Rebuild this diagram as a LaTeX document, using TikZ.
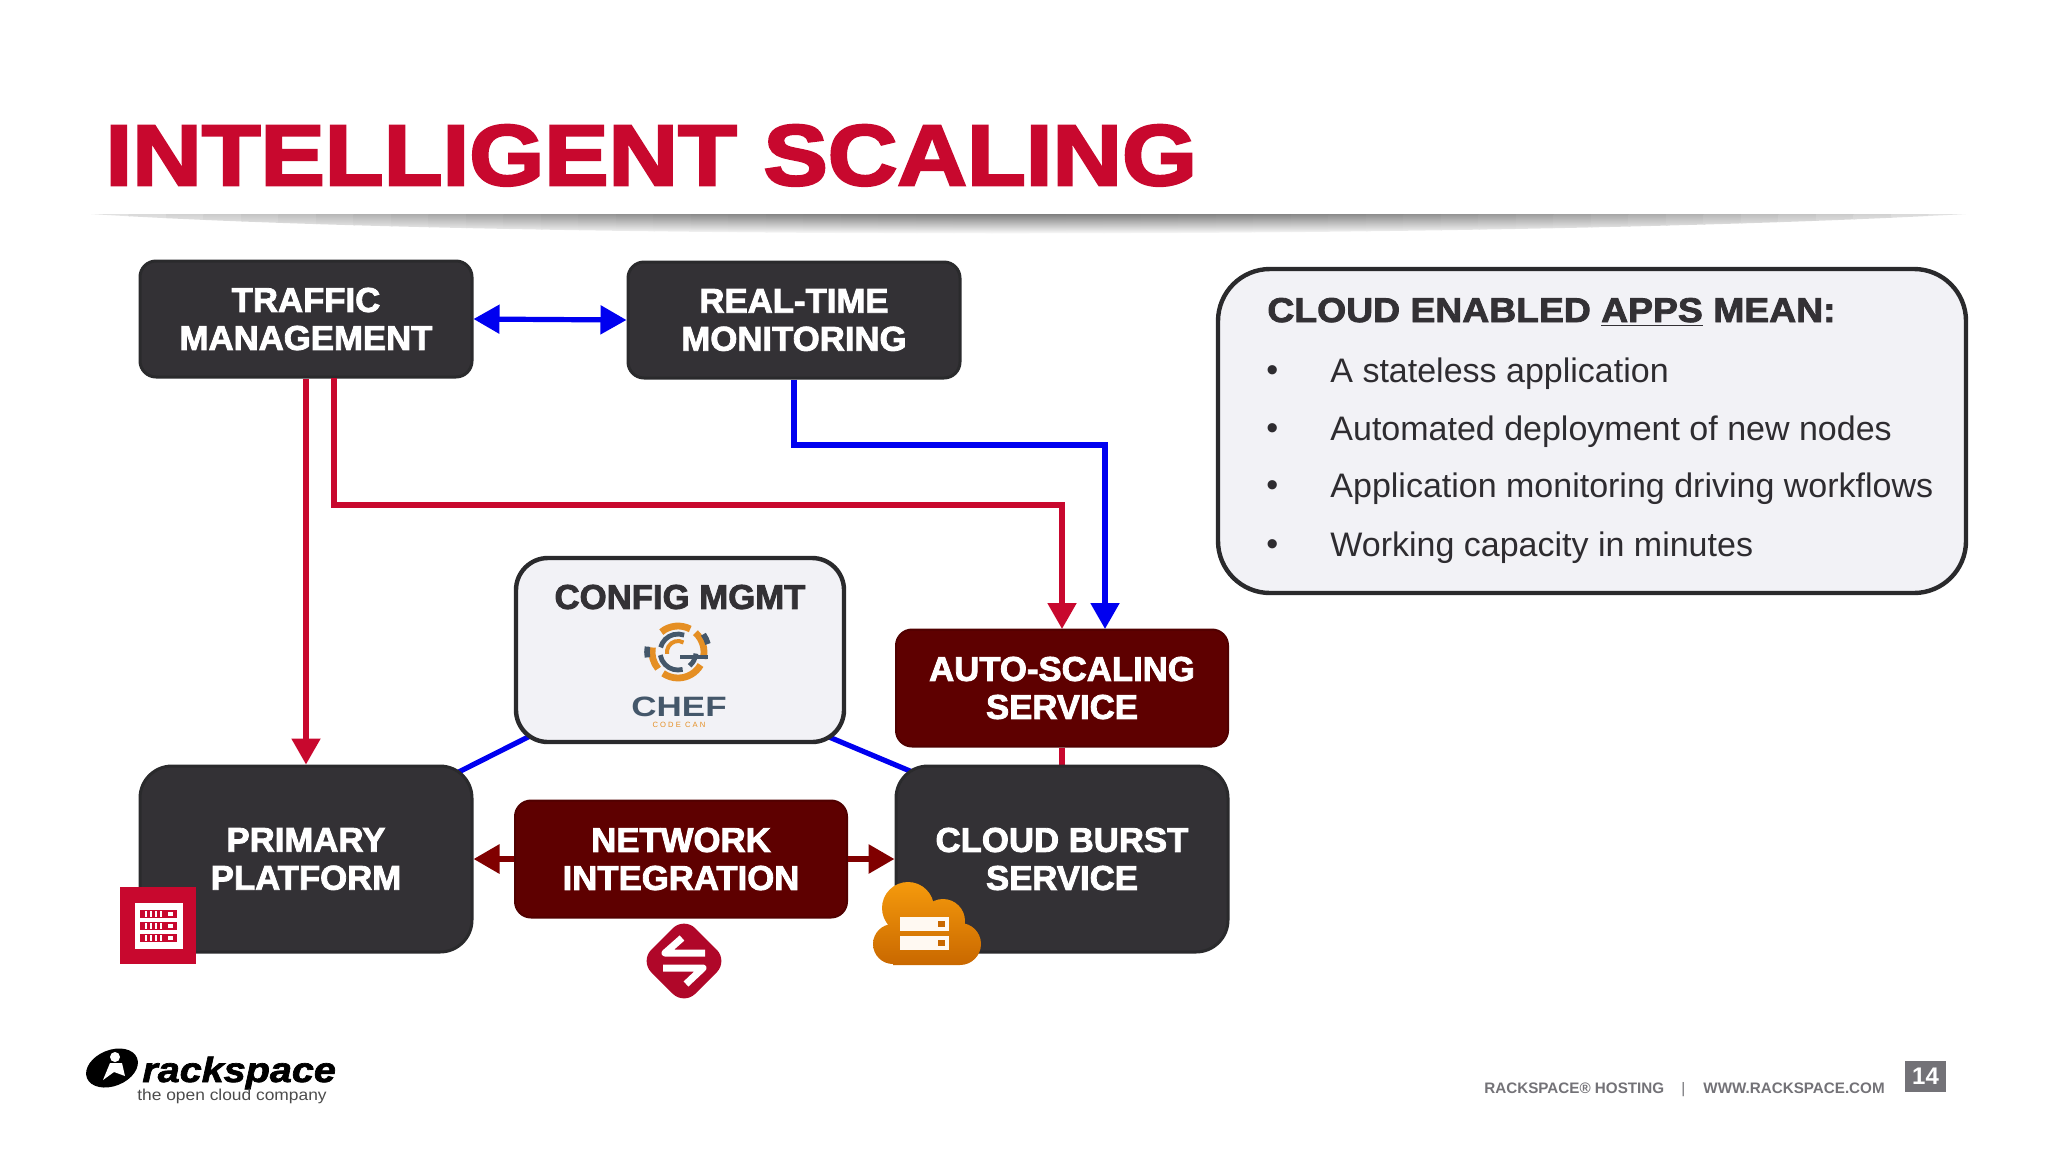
\documentclass[tikz,border=0pt]{standalone}
\usepackage{xcolor}
\usepackage{fontspec}
\setmainfont{Liberation Sans}
\newfontfamily\titlefont[FakeStretch=1.12,FakeBold=3]{Liberation Sans Bold}
\newfontfamily\headfont[FakeStretch=1.01,FakeBold=2.4]{Liberation Sans Bold}
\newfontfamily\panelfont[FakeStretch=1.085,FakeBold=2.4]{Liberation Sans Bold}
\newfontfamily\cheffont[FakeStretch=1.25]{Liberation Sans Bold}
\newfontfamily\logofont[FakeStretch=1.13,FakeBold=2]{Liberation Sans Bold Italic}
\newfontfamily\sloganfont[FakeStretch=1.1]{Liberation Sans}
\usetikzlibrary{positioning,calc,shapes.geometric,arrows.meta,backgrounds}
\definecolor{rsred}{HTML}{C8082E}
\definecolor{rsmaroon}{HTML}{5E0000}
\definecolor{rsarrow}{HTML}{800000}
\definecolor{rsdark}{HTML}{333135}
\definecolor{rsedge}{HTML}{2A2A2C}
\definecolor{rslight}{HTML}{F2F2F6}
\definecolor{rsgrey}{HTML}{737277}
\definecolor{rsblue}{HTML}{0000F0}
\definecolor{chefblue}{HTML}{44576A}
\definecolor{cheforange}{HTML}{E58F24}
\definecolor{cloudtop}{HTML}{F59A0C}
\definecolor{cloudbottom}{HTML}{C96800}

\begin{document}
\begin{tikzpicture}[x=0.5pt,y=-0.5pt,
    boxbase/.style={rectangle,align=center,inner sep=0pt,minimum width=166pt,
        font=\headfont\fontsize{17.2}{19}\selectfont},
    boxdark/.style={boxbase,draw=rsedge,line width=1.5pt,fill=rsdark,text=white},
    boxmaroon/.style={boxbase,draw=rsmaroon!85!black,line width=1pt,fill=rsmaroon,text=white,
        rounded corners=8pt,minimum height=58.5pt},
    redline/.style={draw=rsred,line width=2.6pt},
    blueline/.style={draw=rsblue,line width=2.6pt},
    darkline/.style={draw=rsarrow,line width=3pt},
    bigtip/.style={-{Triangle[length=13pt,width=14pt]}},
    bothtip/.style={{Triangle[length=13pt,width=14pt]}-{Triangle[length=13pt,width=14pt]}},
    itemtext/.style={anchor=west,inner sep=0pt,text=rsdark!90!black,font=\fontsize{17}{20}\selectfont},
    foottext/.style={anchor=base west,inner sep=0pt,text=rsgrey,font=\bfseries\fontsize{7.6}{9}\selectfont}]

    \useasboundingbox (0,0) rectangle (2048,1152);

    % title
    \node[anchor=base west,inner sep=0pt,text=rsred,font=\titlefont\fontsize{43}{48}\selectfont] (title) at (105,185) {INTELLIGENT SCALING};
    \begin{scope}
        \clip (91,214) -- (1966,214) .. controls (1500,240) and (500,240) .. (91,214) -- cycle;
        \foreach \i [evaluate=\i as \pct using 10+40*(1-((\i-24.5)/25)^2)] in {0,...,49}
            \shade[top color=black!\pct,bottom color=white] (91+37.5*\i,214) rectangle (130+37.5*\i,234);
    \end{scope}

    % boxes
    \node[boxdark,rounded corners=8pt,minimum height=58pt] (traffic) at (306,319) {TRAFFIC\\MANAGEMENT};
    \node[boxdark,rounded corners=8pt,minimum height=58pt] (realtime) at (794,320) {REAL-TIME\\MONITORING};
    \node[boxdark,rounded corners=16pt,minimum height=93pt] (primary) at (306,859) {PRIMARY\\PLATFORM};
    \node[boxdark,rounded corners=16pt,minimum height=93pt] (cloudburst) at (1062,859) {CLOUD BURST\\SERVICE};
    \node[boxmaroon] (network) at (681,859) {NETWORK\\INTEGRATION};
    \node[boxmaroon] (autoscale) at (1062,688) {AUTO-SCALING\\SERVICE};
    \node[boxbase,draw=rsedge,line width=2.2pt,fill=rslight,rounded corners=16pt,minimum width=164pt,minimum height=92pt] (config) at (680,650) {};
    \node[inner sep=0pt,text=rsdark,font=\headfont\fontsize{17.2}{19}\selectfont] (configlabel) at (680,597) {CONFIG MGMT};

    % connectors
    \coordinate (trafficout) at (334,378);
    \coordinate (autored) at (1062,629);
    \coordinate (autoblue) at (1105,629);
    \begin{scope}[on background layer]
        \draw[blueline,shorten <=-10pt,shorten >=-10pt] (config.south west) -- (primary.north east);
        \draw[blueline,shorten <=-10pt,shorten >=-10pt] (config.south east) -- (cloudburst.north west);
        \draw[redline] (autoscale.south) -- (cloudburst.north);
    \end{scope}
    \draw[blueline,bothtip] (traffic.east) -- (realtime.west);
    \draw[redline,bigtip] (traffic.south) -- (primary.north);
    \draw[redline,bigtip] (trafficout) |- (1062,505) -- (autored);
    \draw[blueline,bigtip] (realtime.south) |- (1105,445) -- (autoblue);
    \draw[darkline,bigtip] (network.west) -- (primary.east);
    \draw[darkline,bigtip] (network.east) -- (cloudburst.west);

    % chef logo
    \foreach \a/\b in {-130/-62,-48/15,30/125,140/190}
        \draw[cheforange,line width=3.4pt] (678,652) ++(\a:26) arc (\a:\b:26);
    \foreach \a/\b in {-165/-70,75/170,5/50}
        \draw[chefblue,line width=2.4pt] (678,652) ++(\a:18) arc (\a:\b:18);
    \draw[cheforange,line width=2pt] (678,652) ++(-60:11) arc (-60:-190:11);
    \foreach \a/\b in {170/190,-35/-15}
        \draw[chefblue,line width=2.8pt] (678,652) ++(\a:31) arc (\a:\b:31);
    \draw[chefblue,line width=1.6pt] (680,657) -- (708,657);
    \node[inner sep=0pt,text=chefblue,font=\cheffont\fontsize{14}{15}\selectfont] (chef) at (679,707) {CHEF};
    \node[inner sep=0pt,text=cheforange,font=\fontsize{3.8}{4}\selectfont] (codecan) at (679,725) {C O D E\ \ C A N};

    % server icon
    \fill[rsred] (120,887) rectangle (196,964);
    \fill[white] (135,903) rectangle (183,949);
    \foreach \y in {910,922,934} {
        \fill[rsred] (140,\y) rectangle (177,\y+8);
        \foreach \x in {145,150,155,160}
            \fill[white] (\x,\y+1) rectangle (\x+2,\y+7);
        \fill[white] (168,\y+2) rectangle (173,\y+6);
    }

    % exchange icon
    \fill[rsred!88!black,rounded corners=8pt] (684,917) -- (728,961) -- (684,1005) -- (640,961) -- cycle;
    \draw[white,line width=3.5pt,line join=round] (705,953) -- (665,953) -- (682,938);
    \draw[white,line width=3.5pt,line join=round] (663,968) -- (703,968) -- (686,984);

    % cloud icon
    \shade[top color=cloudtop,bottom color=cloudbottom] (908,908) circle (26) (943,921) circle (22) (960,944) circle (21)
        (893,944) circle (20) (960,925) rectangle (893,965);
    \foreach \y in {917,936} {
        \fill[white!95!orange] (900,\y) rectangle (949,\y+14);
        \fill[cloudbottom] (938,\y+4) rectangle (945,\y+10);
    }

    % side panel
    \node[draw=rsedge,line width=2.2pt,fill=rslight,rounded corners=26pt,minimum width=374pt,minimum height=162pt,inner sep=0pt] (apps) at (1592,431) {};
    \node[anchor=base west,inner sep=0pt,text=rsdark,font=\panelfont\fontsize{17.2}{19}\selectfont] (appstitle) at (1267,322) {CLOUD ENABLED \underline{APPS} MEAN:};
    \foreach \n/\y/\txt in {1/374/A stateless application,2/432/Automated deployment of new nodes,3/489/Application monitoring driving workflows,4/548/Working capacity in minutes} {
        \node[itemtext] (bullet\n) at (1266,\y) {•};
        \node[itemtext] (item\n) at (1330,\y) {\txt};
    }

    % rackspace logo
    \fill[black,rotate around={22:(112,1068)}] (112,1068) ellipse (27 and 18);
    \fill[white] (115,1057) circle (5);
    \fill[white] (103,1080) -- (110,1063) -- (122,1063) -- (125,1076) -- (114,1072) -- cycle;
    \node[anchor=base west,inner sep=0pt,font=\logofont\fontsize{17.5}{18}\selectfont] (logo) at (142,1082) {rackspace};
    \node[anchor=center,inner sep=0pt,text=black!70,font=\sloganfont\fontsize{7.9}{8}\selectfont] (slogan) at (232,1096) {the open cloud company};

    % footer
    \node[foottext] (hosting) at (1484,1093) {RACKSPACE® HOSTING};
    \node[foottext,font=\fontsize{7.6}{9}\selectfont] (sep) at (1681,1093) {|};
    \node[foottext] (website) at (1703,1093) {WWW.RACKSPACE.COM};
    \node[fill=rsgrey,text=white,inner sep=0pt,minimum width=20.5pt,minimum height=15.5pt,font=\bfseries\fontsize{12}{13}\selectfont] (page) at (1925.5,1076.5) {14};
\end{tikzpicture}
\end{document}
